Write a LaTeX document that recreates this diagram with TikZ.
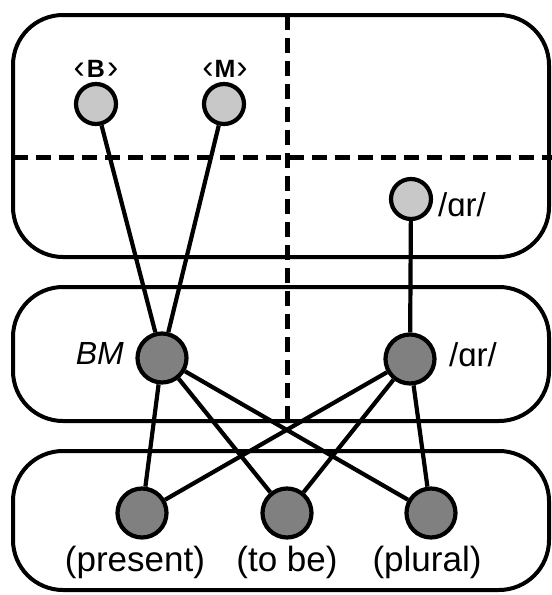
\documentclass[tikz,border=0pt]{standalone}
\usepackage{fontspec}
\setmainfont{Liberation Sans}
\definecolor{lightgrey}{RGB}{200,200,200}
\definecolor{darkgrey}{RGB}{128,128,128}
\newcommand{\lbrk}{\raisebox{-1.5pt}{\scalebox{1.35}{\mdseries ‹}}}
\newcommand{\rbrk}{\raisebox{-1.5pt}{\scalebox{1.35}{\mdseries ›}}}
\begin{document}
\begin{tikzpicture}[x=1pt,y=-1pt,
  lane/.style={draw=black, line width=4pt, rounded corners=50pt},
  divider/.style={draw=black, line width=5pt, dash pattern=on 15pt off 8pt},
  link/.style={draw=black, line width=4.2pt},
  lightnode/.style={circle, draw=black, line width=4.2pt, fill=lightgrey, minimum size=40pt, inner sep=0pt},
  darknode/.style={circle, draw=black, line width=4.2pt, fill=darkgrey, minimum size=49pt, inner sep=0pt},
  toplabel/.style={inner sep=0pt, font=\fontsize{25}{30}\selectfont\bfseries},
  midlabel/.style={inner sep=0pt, font=\fontsize{33}{38}\selectfont},
  botlabel/.style={inner sep=0pt, font=\fontsize{35}{40}\selectfont}]
\useasboundingbox (0,0) rectangle (552,595);
% lanes
\draw[lane] (13,15) rectangle (549,257);
\draw[lane] (13,287) rectangle (549,421);
\draw[lane] (13,451) rectangle (549,590);
% dividers
\draw[divider] (287,15) -- (287,421);
\draw[divider] (13,157) -- (552,157);
% nodes
\node[lightnode] (b) at (96,104) {};
\node[lightnode] (m) at (224,104) {};
\node[lightnode] (art) at (411,199) {};
\node[darknode] (bm) at (162,358) {};
\node[darknode] (arm) at (410,359) {};
\node[darknode] (pres) at (142,513) {};
\node[darknode] (tobe) at (287,513) {};
\node[darknode] (plur) at (431,513) {};
% labels
\node[toplabel, anchor=base] (lb) at (96,77) {\lbrk\hspace{2pt}B\hspace{2pt}\rbrk};
\node[toplabel, anchor=base] (lm) at (225,77) {\lbrk\hspace{1pt}M\hspace{1pt}\rbrk};
\node[midlabel, anchor=base west] (lart) at (438,216) {/ɑr/};
\node[midlabel, anchor=base west] (larm) at (449,366) {/ɑr/};
\node[midlabel, anchor=base east, font=\fontsize{32}{38}\selectfont\itshape] (lbm) at (124,364) {BM};
\node[botlabel, anchor=base] (lpres) at (135,571) {(present)};
\node[botlabel, anchor=base] (ltobe) at (287,571) {(to be)};
\node[botlabel, anchor=base] (lplur) at (427,571) {(plural)};
% connectors
\draw[link] (b) -- (bm);
\draw[link] (m) -- (bm);
\draw[link] (art) -- (arm);
\draw[link] (bm) -- (pres);
\draw[link] (bm) -- (tobe);
\draw[link] (bm) -- (plur);
\draw[link] (arm) -- (pres);
\draw[link] (arm) -- (tobe);
\draw[link] (arm) -- (plur);
\end{tikzpicture}
\end{document}
